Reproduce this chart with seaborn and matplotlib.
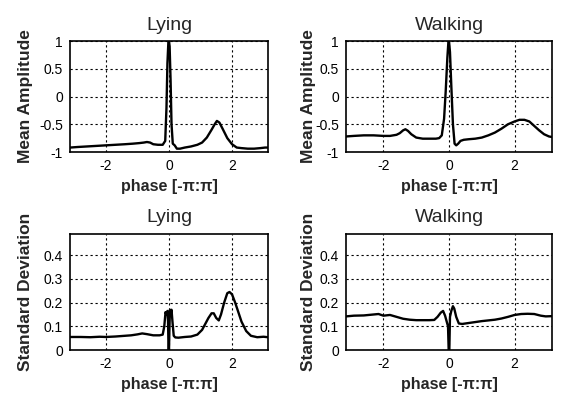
import numpy as np
import pandas as pd
import seaborn as sns
import matplotlib.pyplot as plt
from matplotlib.ticker import FuncFormatter

# Mean amplitude, lying
lying_mean_x = [-3.14, -2.9, -2.6, -2.3, -2.0, -1.7, -1.4, -1.15, -0.95, -0.8, -0.7, -0.6, -0.5,
                -0.35, -0.2, -0.12, -0.08, -0.05, -0.02, 0.0, 0.02, 0.05, 0.08, 0.12, 0.18, 0.25,
                0.35, 0.5, 0.7, 0.9, 1.05, 1.2, 1.35, 1.45, 1.52, 1.6, 1.7, 1.85, 2.0, 2.15, 2.3,
                2.5, 2.7, 2.9, 3.05, 3.14]
lying_mean_y = [-0.92, -0.91, -0.90, -0.89, -0.88, -0.87, -0.86, -0.85, -0.84, -0.83, -0.82, -0.83,
                -0.86, -0.87, -0.87, -0.80, -0.2, 0.6, 0.98, 1.0, 0.9, 0.3, -0.5, -0.85, -0.88,
                -0.94, -0.94, -0.92, -0.90, -0.87, -0.83, -0.74, -0.60, -0.50, -0.44, -0.47, -0.58,
                -0.75, -0.86, -0.92, -0.93, -0.94, -0.94, -0.93, -0.92, -0.92]

# Mean amplitude, walking
walking_mean_x = [-3.14, -2.9, -2.6, -2.3, -2.0, -1.8, -1.6, -1.5, -1.4, -1.33, -1.25, -1.15, -1.0,
                  -0.8, -0.6, -0.4, -0.3, -0.22, -0.15, -0.1, -0.05, -0.02, 0.0, 0.03, 0.07, 0.12,
                  0.17, 0.22, 0.28, 0.35, 0.45, 0.6, 0.8, 1.0, 1.2, 1.4, 1.6, 1.8, 2.0, 2.15, 2.3,
                  2.45, 2.6, 2.75, 2.9, 3.05, 3.14]
walking_mean_y = [-0.72, -0.71, -0.70, -0.70, -0.71, -0.71, -0.69, -0.66, -0.61, -0.59, -0.62, -0.68,
                  -0.74, -0.76, -0.76, -0.76, -0.75, -0.70, -0.40, 0.1, 0.7, 0.97, 1.0, 0.8, 0.2,
                  -0.5, -0.85, -0.88, -0.85, -0.80, -0.78, -0.77, -0.76, -0.74, -0.70, -0.65, -0.58,
                  -0.50, -0.45, -0.42, -0.42, -0.45, -0.53, -0.61, -0.68, -0.72, -0.73]

# Standard deviation, lying
lying_std_x = [-3.14, -2.8, -2.5, -2.2, -2.0, -1.7, -1.4, -1.2, -1.0, -0.85, -0.7, -0.5, -0.3, -0.2,
               -0.15, -0.11, -0.08, -0.05, -0.03, -0.015, 0.0, 0.015, 0.03, 0.05, 0.08, 0.11, 0.15,
               0.2, 0.3, 0.5, 0.7, 0.9, 1.05, 1.15, 1.25, 1.35, 1.42, 1.5, 1.58, 1.65, 1.75, 1.85,
               1.92, 2.0, 2.1, 2.2, 2.3, 2.45, 2.6, 2.8, 3.0, 3.14]
lying_std_y = [0.055, 0.055, 0.054, 0.056, 0.055, 0.057, 0.060, 0.062, 0.066, 0.070, 0.067, 0.062,
               0.062, 0.065, 0.10, 0.16, 0.15, 0.165, 0.12, 0.0, 0.0, 0.10, 0.17, 0.15, 0.17, 0.12,
               0.06, 0.053, 0.052, 0.055, 0.057, 0.065, 0.085, 0.11, 0.135, 0.155, 0.155, 0.135,
               0.125, 0.15, 0.20, 0.24, 0.245, 0.235, 0.20, 0.16, 0.12, 0.08, 0.06, 0.054, 0.056,
               0.054]

# Standard deviation, walking
walking_std_x = [-3.14, -2.9, -2.6, -2.3, -2.15, -2.0, -1.8, -1.6, -1.4, -1.2, -1.0, -0.8, -0.6,
                 -0.45, -0.35, -0.25, -0.18, -0.12, -0.07, -0.03, -0.01, 0.0, 0.01, 0.03, 0.07,
                 0.12, 0.16, 0.22, 0.3, 0.4, 0.6, 0.8, 1.0, 1.2, 1.4, 1.6, 1.8, 2.0, 2.2, 2.4, 2.6,
                 2.8, 2.95, 3.14]
walking_std_y = [0.142, 0.145, 0.146, 0.150, 0.152, 0.145, 0.148, 0.140, 0.132, 0.128, 0.126, 0.126,
                 0.126, 0.127, 0.140, 0.158, 0.165, 0.145, 0.120, 0.100, 0.0, 0.0, 0.0, 0.140,
                 0.165, 0.185, 0.175, 0.140, 0.112, 0.110, 0.114, 0.118, 0.122, 0.125, 0.128,
                 0.133, 0.140, 0.148, 0.152, 0.153, 0.152, 0.145, 0.142, 0.143]

sns.set_style("white")
plt.rcParams['font.family'] = ['Liberation Sans', 'DejaVu Sans']

fig = plt.figure(figsize=(5.64, 3.95), dpi=100)

# axes boxes in figure fractions (left, bottom, width, height), title pad, ylabel x
panels = [
    ((70 / 564, 1 - 152 / 395, 198 / 564, 111 / 395), lying_mean_x, lying_mean_y, 'Lying', 'Mean Amplitude', 'mean', 8, -0.187),
    ((346 / 564, 1 - 152 / 395, 206 / 564, 111 / 395), walking_mean_x, walking_mean_y, 'Walking', 'Mean Amplitude', 'mean', 8, -0.146),
    ((70 / 564, 1 - 350 / 395, 198 / 564, 116 / 395), lying_std_x, lying_std_y, 'Lying', 'Standard Deviation', 'std', 8.5, -0.187),
    ((346 / 564, 1 - 350 / 395, 206 / 564, 116 / 395), walking_std_x, walking_std_y, 'Walking', 'Standard Deviation', 'std', 8.5, -0.146),
]

def fmt(v, pos):
    return ('%g' % round(v, 2))

for rect, xs, ys, title, ylabel, kind, tpad, ylx in panels:
    ax = fig.add_axes(rect)
    df = pd.DataFrame({'phase': xs, 'value': ys})
    sns.lineplot(data=df, x='phase', y='value', ax=ax, color='black', linewidth=1.7,
                 estimator=None, sort=False)
    ax.set_xlim(-np.pi, np.pi)
    ax.set_xticks([-2, 0, 2])
    if kind == 'mean':
        ax.set_ylim(-1, 1)
        ax.set_yticks([-1, -0.5, 0, 0.5, 1])
    else:
        ax.set_ylim(0, 0.49)
        ax.set_yticks([0, 0.1, 0.2, 0.3, 0.4])
    ax.xaxis.set_major_formatter(FuncFormatter(fmt))
    ax.yaxis.set_major_formatter(FuncFormatter(fmt))
    ax.grid(True, color='black', linestyle=(0, (2, 2.5)), linewidth=0.8)
    ax.set_axisbelow(True)
    for sp in ax.spines.values():
        sp.set_visible(True)
        sp.set_color('black')
        sp.set_linewidth(1.2)
    ax.tick_params(direction='in', length=3, width=0.8, labelsize=10, colors='black', pad=5)
    ax.set_title(title, fontsize=14, pad=tpad)
    ax.set_xlabel('phase [-π:π]', fontsize=11.5, fontweight='bold', labelpad=4)
    ax.set_ylabel(ylabel, fontsize=12.5, fontweight='bold')
    ax.yaxis.set_label_coords(ylx, 0.5)

fig.savefig('out.png', dpi=100)
